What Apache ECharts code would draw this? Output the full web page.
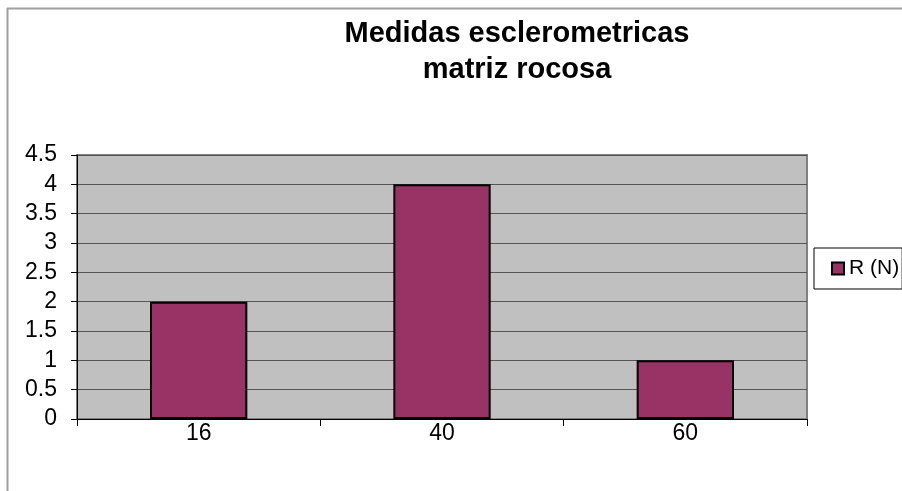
<!DOCTYPE html>
<html>
<head>
<meta charset="utf-8">
<script src="https://cdn.jsdelivr.net/npm/echarts@6/dist/echarts.min.js"></script>
<style>
html,body{margin:0;padding:0;background:#fff;}
#c{width:902px;height:491px;}
</style>
</head>
<body>
<div id="c"></div>
<script>
var categories = ['16', '40', '60'];
var seriesName = 'R (N)';
var values = [2, 4, 1];
var titleLines = ['Medidas esclerometricas', 'matriz rocosa'];

var chart = echarts.init(document.getElementById('c'), null, {renderer: 'canvas'});
var font = '"Liberation Sans", Arial, sans-serif';
chart.setOption({
  animation: false,
  backgroundColor: '#ffffff',
  title: {
    text: titleLines.join('\n'),
    left: 512, textAlign: 'center', top: 11,
    textStyle: {fontFamily: font, fontSize: 29, fontWeight: 'bold', color: '#000', lineHeight: 36}
  },
  graphic: [
    {type: 'line', shape: {x1: 7, y1: 8.5, x2: 902, y2: 8.5}, style: {stroke: '#a0a0a0', lineWidth: 2}, silent: true},
    {type: 'line', shape: {x1: 7.5, y1: 8, x2: 7.5, y2: 491}, style: {stroke: '#a0a0a0', lineWidth: 2}, silent: true}
  ],
  legend: {
    left: 814, top: 248,
    orient: 'vertical',
    padding: [10, 3, 10, 17],
    borderColor: '#000', borderWidth: 1,
    backgroundColor: '#fff',
    itemWidth: 12, itemHeight: 12, itemGap: 5,
    icon: 'rect',
    textStyle: {fontFamily: font, fontSize: 21, color: '#000', padding: [0, 0, 0, 0]},
    data: [seriesName]
  },
  grid: {left: 77, right: 95, top: 155, bottom: 72, show: true, backgroundColor: '#c0c0c0', borderColor: '#808080', borderWidth: 2},
  xAxis: {
    type: 'category', data: categories, boundaryGap: true,
    axisLine: {lineStyle: {color: '#000', width: 1}},
    axisTick: {show: true, length: 7, lineStyle: {color: '#000'}},
    axisLabel: {fontFamily: font, fontSize: 23, color: '#000', margin: 3},
    splitLine: {show: false}
  },
  yAxis: {
    type: 'value', min: 0, max: 4.5, interval: 0.5,
    axisLine: {show: true, lineStyle: {color: '#000', width: 1}},
    axisTick: {show: true, length: 6, lineStyle: {color: '#000'}},
    axisLabel: {fontFamily: font, fontSize: 23, color: '#000', margin: 20},
    splitLine: {show: true, lineStyle: {color: '#555', width: 1}}
  },
  series: [{
    name: seriesName, type: 'bar', data: values,
    barWidth: '40%',
    itemStyle: {color: '#993366', borderColor: '#000', borderWidth: 2}
  }]
});
</script>
</body>
</html>
